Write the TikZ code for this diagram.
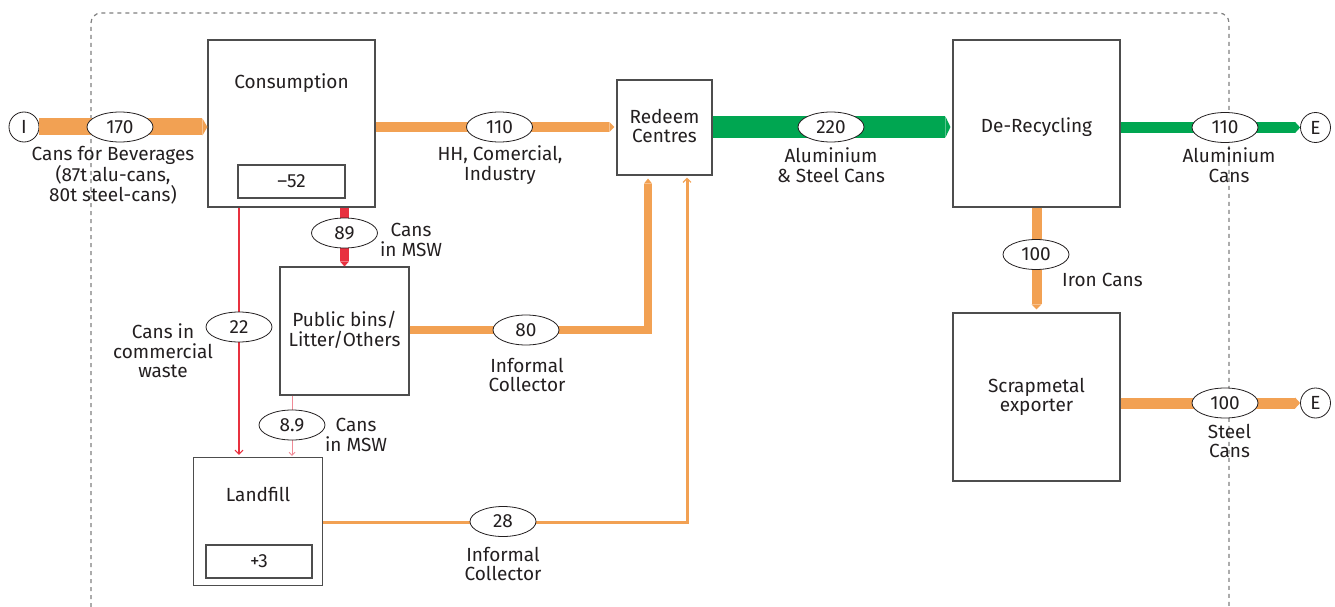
\documentclass[tikz,border=0pt]{standalone}
\usepackage{fontspec}
\setmainfont{Fira Sans}
\usetikzlibrary{arrows.meta,shapes.geometric}
\definecolor{flowor}{HTML}{F2A153}
\definecolor{flowgr}{HTML}{00A651}
\definecolor{flowrd}{HTML}{E8313F}
\definecolor{flowpk}{HTML}{F08A96}
\definecolor{edge}{HTML}{4D4D4D}
\definecolor{ink}{HTML}{231F20}
\definecolor{frame}{HTML}{808080}
\begin{document}
\begin{tikzpicture}[x=1pt,y=-1pt,
  every node/.style={text=ink,font=\fontsize{19}{19.5}\selectfont,align=center},
  proc/.style={draw=edge,line width=1.1pt,fill=white,inner sep=0pt},
  stock/.style={draw=edge,line width=1.1pt,fill=white,minimum width=107pt,minimum height=33pt,inner sep=0pt},
  val/.style={ellipse,draw=ink,line width=0.8pt,fill=white,minimum width=66pt,minimum height=30pt,inner sep=0pt},
  term/.style={circle,draw=ink,line width=0.8pt,fill=white,minimum size=30pt,inner sep=0pt},
  lbl/.style={inner sep=0pt},
  band/.style={line width=#1},
  bandtip/.style={-{Triangle[length=5pt,width=#1,line width=0pt]}},
  thinflow/.style={-{Straight Barb[length=4pt,width=8pt,line width=1.2pt]}},
  system/.style={draw=frame,line width=1.2pt,dash pattern=on 4pt off 4pt,rounded corners=10pt}]
\useasboundingbox (0,0) rectangle (1335,607);

% system boundary
\draw[system] (91,607) -- (91,13) -- (1229,13) -- (1229,607);

% processes
\node[proc,minimum width=167pt,minimum height=167pt] (cons) at (291.5,123.5) {};
\node[proc,minimum width=95pt,minimum height=95pt] (redeem) at (664.5,127.5) {};
\node[proc,minimum width=167pt,minimum height=167pt] (derec) at (1036.5,123.5) {};
\node[proc,minimum width=167pt,minimum height=168pt] (scrap) at (1036.5,397) {};
\node[proc,minimum width=129pt,minimum height=128pt] (bins) at (344.5,331) {};
\node[proc,minimum width=129pt,minimum height=128pt] (landfill) at (258,521.5) {};

\node[stock] (consstock) at (291.5,181.5) {--52};
\node[stock,minimum width=106pt] (landstock) at (259,561.5) {+3};

\node[lbl] (cons-t) at (291.5,83) {Consumption};
\node[lbl] (redeem-t) at (664.5,126) {Redeem\\Centres};
\node[lbl] (derec-t) at (1036.5,127) {De-Recycling};
\node[lbl] (scrap-t) at (1036.5,397) {Scrapmetal\\exporter};
\node[lbl] (bins-t) at (344.5,330) {Public bins/\\Litter/Others};
\node[lbl] (landfill-t) at (258,494) {Landfill};

% import / export terminals
\node[term] (imp) at (24,127) {I};
\node[term] (exp1) at (1315.5,127.5) {E};
\node[term] (exp2) at (1315.5,403) {E};

% turning points of the informal collection routes
\coordinate (j80) at (648,330);
\coordinate (j28) at (687,522);
\coordinate (x22) at (239,0);
\coordinate (x89) at (292,0);

% flows
\draw[flowor,band=17pt,bandtip=17pt] (imp.east) -- (cons.west |- imp);
\draw[flowor,band=10pt,bandtip=10pt,shorten >=2pt] (cons.east |- imp) -- (redeem.west |- imp);
\draw[flowgr,band=21pt,bandtip=21pt,shorten >=2pt] (redeem.east |- imp) -- (derec.west |- imp);
\draw[flowgr,band=11pt,bandtip=11pt] (derec.east |- exp1) -- (exp1.west);
\draw[flowor,band=10pt,bandtip=10pt,shorten >=3pt] (derec.south) -- (scrap.north);
\draw[flowor,band=11pt,bandtip=11pt] (scrap.east |- exp2) -- (exp2.west);
\draw[flowrd,band=9pt,bandtip=9pt] (bins.north |- cons.south) -- (bins.north);
\draw[flowor,band=8pt,bandtip=8pt,line join=miter,shorten >=3pt] (bins.east |- j80) -- (j80) -- (redeem.south -| j80);
\draw[flowor,line width=3pt,thinflow,shorten >=2pt] (landfill.east |- j28) -- (j28) -- (redeem.south -| j28);
\draw[flowrd,line width=2pt,thinflow,shorten >=2pt] (cons.south -| x22) -- (landfill.north -| x22);
\draw[flowpk,line width=1pt,-{Straight Barb[length=3pt,width=6pt,line width=1pt]},shorten >=1pt] (bins.south -| x89) -- (landfill.north -| x89);

% flow values
\node[val] (v170) at (120,127) {170};
\node[val] (v110a) at (499.5,127) {110};
\node[val] (v220) at (831,127) {220};
\node[val] (v110b) at (1225,127.5) {110};
\node[val] (v100a) at (1036,254.5) {100};
\node[val] (v100b) at (1225,403) {100};
\node[val] (v89) at (344.5,233) {89};
\node[val] (v22) at (239,327) {22};
\node[val] (v89b) at (292,425) {8.9};
\node[val] (v80) at (526,330) {80};
\node[val] (v28) at (503,521.5) {28};

% flow descriptions
\node[lbl] (l170) at (113,175) {Cans for Beverages\\(87t alu-cans,\\80t steel-cans)};
\node[lbl] (l110a) at (500,165) {HH, Comercial,\\Industry};
\node[lbl] (l220) at (831,165) {Aluminium\\\& Steel Cans};
\node[lbl] (l110b) at (1229,165) {Aluminium\\Cans};
\node[lbl,anchor=west] (l100a) at (1062,280) {Iron Cans};
\node[lbl] (l100b) at (1229.5,441) {Steel\\Cans};
\node[lbl] (l89) at (411,240) {Cans\\in MSW};
\node[lbl] (l22) at (163,351) {Cans in\\commercial\\waste};
\node[lbl] (l89b) at (356,435) {Cans\\in MSW};
\node[lbl] (l80) at (527,375) {Informal\\Collector};
\node[lbl] (l28) at (503,564) {Informal\\Collector};
\end{tikzpicture}
\end{document}
